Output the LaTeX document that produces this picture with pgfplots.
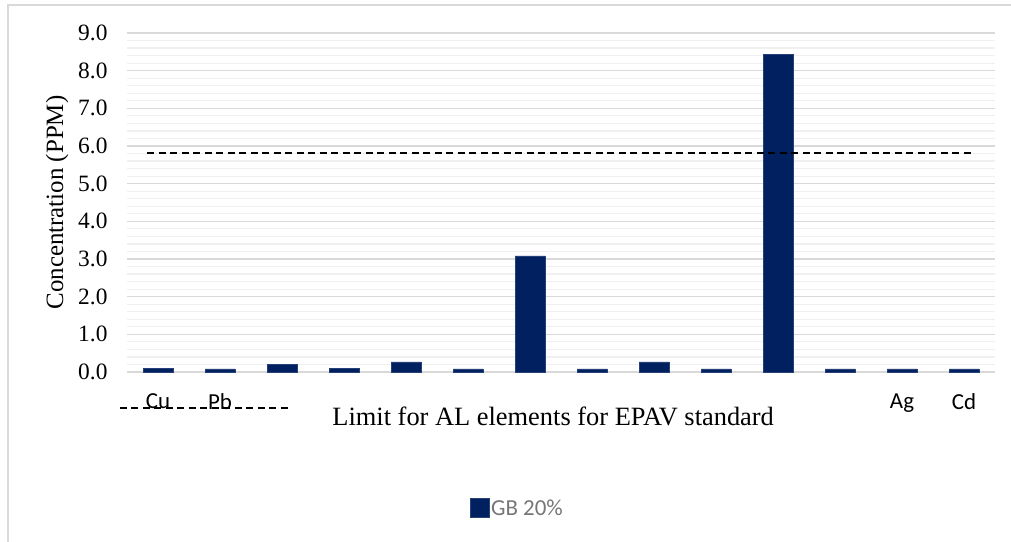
\documentclass[border=0pt]{standalone}
\usepackage{fontspec}
\setmainfont{Liberation Serif}
\newfontfamily\calibri{Carlito}
\usepackage{pgfplots}
\pgfplotsset{compat=1.18}
\definecolor{barblue}{RGB}{0,32,96}
\definecolor{majgrid}{RGB}{217,217,217}
\definecolor{mingrid}{RGB}{240,240,240}
\definecolor{legtext}{RGB}{118,118,118}
\begin{document}
\begin{tikzpicture}[x=1bp,y=1bp]
\path[use as bounding box] (0,0) rectangle (1011,542);
\draw[majgrid, line width=1.3bp] (8,0) -- (8,537) -- (1011,537);
\begin{axis}[
  at={(127bp,170bp)}, anchor=south west,
  scale only axis, width=868bp, height=339bp,
  xmin=-0.5, xmax=13.5, ymin=0, ymax=9,
  clip=false,
  axis line style={draw=none},
  major tick length=0pt, minor tick length=0pt,
  ytick={0,1,...,9}, minor y tick num=4,
  ymajorgrids, yminorgrids,
  major grid style={majgrid, line width=1.2bp},
  minor grid style={mingrid, line width=1.2bp},
  xtick={0,1,...,13},
  xticklabels={Cu,Pb,,,,,,,,,,,Ag,Cd},
  xticklabel style={font=\calibri\fontsize{23}{23}\selectfont, yshift=-18bp},
  yticklabel style={/pgf/number format/fixed, /pgf/number format/fixed zerofill,
    /pgf/number format/precision=1, /pgf/number format/assume math mode=true,
    font=\fontsize{23.5}{23.5}\selectfont, xshift=-16bp},
  ylabel={Concentration (PPM)},
  ylabel style={at={(rel axis cs:-0.0805,0.5)}, anchor=center, font=\fontsize{25}{25}\selectfont},
  xlabel={Limit for AL elements for EPAV standard},
  xlabel style={at={(rel axis cs:0.491,-0.1593)}, anchor=base, font=\fontsize{26.5}{26.5}\selectfont},
  legend style={at={(rel axis cs:0.3952,-0.4012)}, anchor=west, draw=none, fill=none,
    inner sep=0pt, font=\calibri\fontsize{23}{23}\selectfont, text=legtext,
    nodes={inner sep=1.5bp}},
  legend image code/.code={\fill[#1] (0bp,-9.5bp) rectangle (19bp,9.5bp);},
]
\addplot[ybar, bar width=30bp, fill=barblue, draw=barblue!85!white] coordinates {
(0,0.10) (1,0.08) (2,0.21) (3,0.10) (4,0.27) (5,0.08) (6,3.08)
(7,0.08) (8,0.27) (9,0.08) (10,8.43) (11,0.08) (12,0.08) (13,0.08)};
\addlegendentry{GB 20\%}
\addplot[black, line width=1.4bp, dash pattern=on 7bp off 4.5bp, forget plot] coordinates {(-0.177,5.81) (13.145,5.81)};
\draw[black, line width=1.4bp, dash pattern=on 7bp off 4.5bp] (rel axis cs:-0.0081,-0.1062) -- (rel axis cs:0.1855,-0.1062);
\end{axis}
\end{tikzpicture}
\end{document}
